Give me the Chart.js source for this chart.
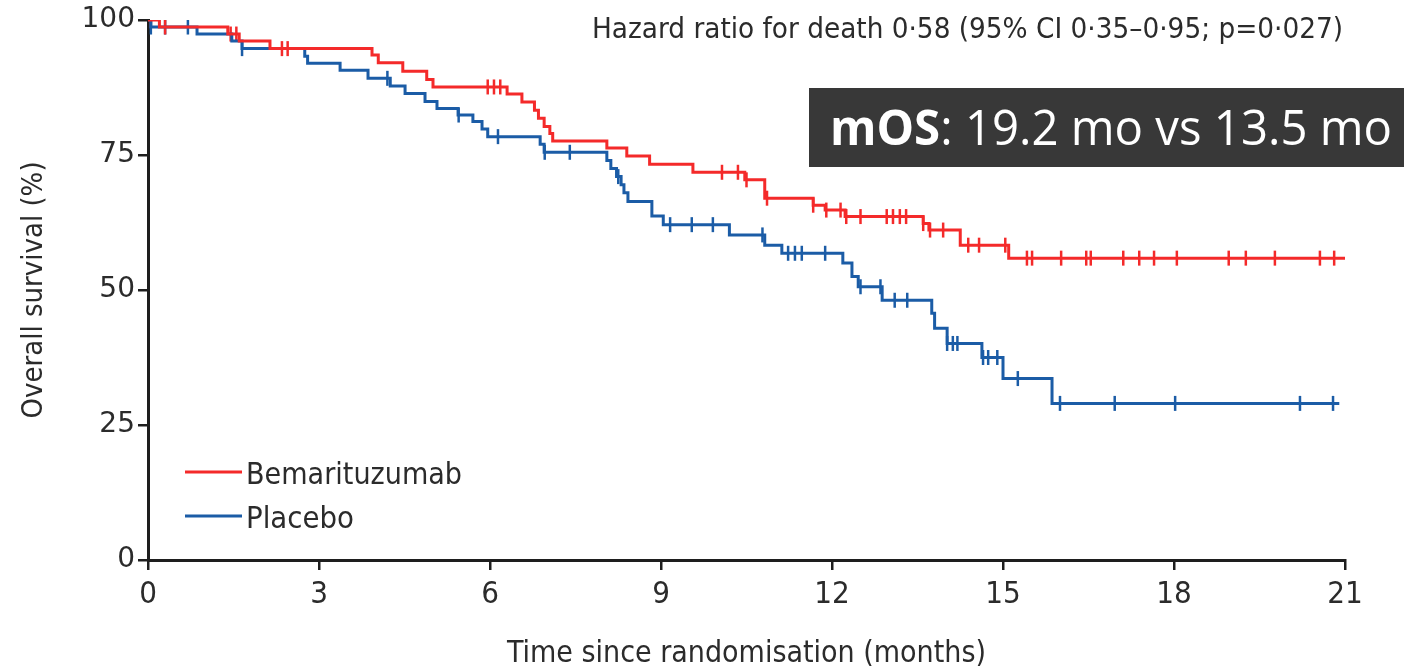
<!DOCTYPE html>
<html>
<head>
<meta charset="utf-8">
<script src="https://cdn.jsdelivr.net/npm/chart.js@4.4.1/dist/chart.umd.min.js"></script>
<style>
  html, body { margin: 0; padding: 0; background: #fff; }
  #wrap { width: 1404px; height: 672px; position: relative; }
</style>
</head>
<body>
<div id="wrap"><canvas id="km" width="1404" height="672"></canvas></div>
<script>
// --- data (months, % surviving) ---
const redTimes = [0, 0.2, 1.4, 1.6, 2.14, 3.93, 4.04, 4.47, 4.89, 5.0, 6.3, 6.56, 6.78, 6.85, 6.95, 7.05, 7.1,
  8.05, 8.4, 8.8, 9.56, 10.47, 10.82, 11.67, 11.88, 12.23, 13.6, 13.7, 14.25, 15.1, 21];
const redSurv = [100, 98.7, 97.4, 96.1, 94.7, 93.5, 92.1, 90.5, 89.0, 87.6, 86.3, 84.8, 83.3, 81.8, 80.3, 79.0, 77.6,
  76.3, 74.8, 73.3, 71.8, 70.4, 67.0, 65.7, 64.8, 63.6, 62.3, 61.1, 58.3, 55.9, 55.9];
const redCensor = [0.05, 0.3, 1.45, 1.55, 2.35, 2.45, 5.96, 6.07, 6.18, 10.07, 10.35, 10.5, 10.86, 11.67, 11.9,
  12.15, 12.25, 12.5, 12.96, 13.07, 13.19, 13.3, 13.6, 13.72, 13.95, 14.39, 14.58, 15.04, 15.42, 15.51, 16.02,
  16.46, 16.54, 17.11, 17.39, 17.65, 18.05, 18.96, 19.26, 19.77, 20.56, 20.81];

const blueTimes = [0, 0.05, 0.86, 1.47, 1.65, 2.75, 2.8, 3.37, 3.86, 4.25, 4.51, 4.86, 5.07, 5.44, 5.7, 5.86, 5.96,
  6.88, 6.95, 8.05, 8.12, 8.22, 8.3, 8.35, 8.42, 8.84, 9.04, 10.2, 10.82, 11.12, 12.19, 12.35, 12.46, 12.88,
  13.75, 13.8, 14.02, 14.63, 15.0, 15.86, 20.9];
const blueSurv = [100, 98.7, 97.4, 96.1, 94.7, 93.3, 92.0, 90.7, 89.2, 87.8, 86.4, 84.9, 83.6, 82.4, 81.2, 79.8, 78.4,
  77.0, 75.5, 74.0, 72.5, 71.0, 69.5, 68.0, 66.4, 63.7, 62.1, 60.2, 58.3, 56.8, 55.0, 52.5, 50.6, 48.1,
  45.7, 42.9, 40.1, 37.5, 33.6, 29.0, 29.0];
const blueCensor = [0.05, 0.3, 0.7, 1.65, 4.2, 5.45, 6.14, 6.96, 7.4, 8.25, 9.16, 9.54, 9.91, 10.78, 11.23, 11.35,
  11.47, 11.88, 12.5, 12.85, 13.1, 13.32, 14.02, 14.12, 14.2, 14.65, 14.74, 14.9, 15.26, 16.0, 16.96, 18.02,
  20.21, 20.79];

const xTicks = [0, 3, 6, 9, 12, 15, 18, 21];
const yTicks = [0, 25, 50, 75, 100];
const seriesNames = ['Bemarituzumab', 'Placebo'];
const hazardText = 'Hazard ratio for death 0·58 (95% CI 0·35–0·95; p=0·027)';
const mosLabel = 'mOS';
const mosText = ': 19.2 mo vs 13.5 mo';

const RED = '#f42a2a';
const BLUE = '#1b5ca6';
const INK = '#2b2b2b';
const NARROW = "'DejaVu Sans Condensed', 'DejaVu Sans', sans-serif";

// step curve value at time t
function survAt(times, surv, t) {
  let s = surv[0];
  for (let i = 0; i < times.length; i++) {
    if (times[i] <= t) s = surv[i];
  }
  return s;
}
const toXY = (times, surv) => times.map((t, i) => ({ x: t, y: surv[i] }));
const censorXY = (list, times, surv) => list.map(t => ({ x: t, y: survAt(times, surv, t) }));

// draw text squeezed/stretched horizontally to a given width
function fitText(ctx, text, x, y, width, align) {
  const w = ctx.measureText(text).width;
  const k = width / w;
  ctx.save();
  ctx.translate(align === 'right' ? x - width : x, y);
  ctx.scale(k, 1);
  ctx.textAlign = 'left';
  ctx.fillText(text, 0, 0);
  ctx.restore();
}

// legend + annotations drawn on the canvas
const overlayPlugin = {
  id: 'overlay',
  afterDatasetsDraw(chart) {
    const ctx = chart.ctx;
    const a = chart.chartArea;
    ctx.save();
    ctx.textBaseline = 'alphabetic';
    // legend inside the plot
    const items = [[seriesNames[0], RED, a.top + 452, 216], [seriesNames[1], BLUE, a.top + 496, 108]];
    ctx.font = '31px ' + NARROW;
    items.forEach(([name, col, y, w]) => {
      ctx.strokeStyle = col;
      ctx.lineWidth = 3;
      ctx.beginPath();
      ctx.moveTo(a.left + 37, y);
      ctx.lineTo(a.left + 94, y);
      ctx.stroke();
      ctx.fillStyle = INK;
      fitText(ctx, name, a.left + 98, y + 12, w, 'left');
    });
    // hazard ratio line
    ctx.font = '29px ' + NARROW;
    ctx.fillStyle = INK;
    fitText(ctx, hazardText, 1343, 38, 751, 'right');
    // mOS box
    ctx.fillStyle = '#383838';
    ctx.fillRect(809, 88, 1404 - 809, 79);
    ctx.fillStyle = '#fff';
    ctx.font = "bold 49px 'Open Sans', sans-serif";
    const w1 = ctx.measureText(mosLabel).width;
    ctx.font = "49px 'Open Sans', sans-serif";
    const w2 = ctx.measureText(mosText).width;
    const k = 562 / (w1 + w2);
    ctx.save();
    ctx.translate(830, 145);
    ctx.scale(k, 1);
    ctx.font = "bold 49px 'Open Sans', sans-serif";
    ctx.fillText(mosLabel, 0, 0);
    ctx.font = "49px 'Open Sans', sans-serif";
    ctx.fillText(mosText, w1, 0);
    ctx.restore();
    ctx.restore();
  }
};

const axisCommon = {
  grid: { drawOnChartArea: false, drawTicks: true, tickLength: 10, color: '#1e1e1e', lineWidth: 2.5 },
  border: { display: true, color: '#1e1e1e', width: 3 },
};

new Chart(document.getElementById('km'), {
  type: 'line',
  data: {
    datasets: [
      { label: seriesNames[0], data: toXY(redTimes, redSurv), borderColor: RED, borderWidth: 3,
        stepped: 'before', pointRadius: 0, fill: false },
      { label: seriesNames[1], data: toXY(blueTimes, blueSurv), borderColor: BLUE, borderWidth: 3,
        stepped: 'before', pointRadius: 0, fill: false },
      { label: 'censor1', data: censorXY(redCensor, redTimes, redSurv), showLine: false,
        pointStyle: 'line', rotation: 90, pointRadius: 7.5, pointBorderWidth: 2.5, borderColor: RED },
      { label: 'censor2', data: censorXY(blueCensor, blueTimes, blueSurv), showLine: false,
        pointStyle: 'line', rotation: 90, pointRadius: 7.5, pointBorderWidth: 2.5, borderColor: BLUE }
    ]
  },
  options: {
    responsive: false,
    animation: false,
    layout: { padding: { top: 20, right: 59, left: 0, bottom: 0 } },
    plugins: { legend: { display: false }, tooltip: { enabled: false } },
    scales: {
      x: {
        ...axisCommon,
        type: 'linear', min: 0, max: 21,
        afterBuildTicks: s => { s.ticks = xTicks.map(v => ({ value: v })); },
        afterFit: s => { s.height = 112; },
        ticks: { color: INK, font: { family: NARROW, size: 31 }, padding: 6, maxRotation: 0 },
        title: { display: true, text: 'Time since randomisation (months)', color: INK,
          font: { family: NARROW, size: 30 }, padding: { bottom: 0 } }
      },
      y: {
        ...axisCommon,
        type: 'linear', min: 0, max: 100,
        afterBuildTicks: s => { s.ticks = yTicks.map(v => ({ value: v })); },
        afterFit: s => { s.width = 148; },
        ticks: { color: INK, font: { family: "'DejaVu Sans', sans-serif", size: 28 }, padding: 3 },
        title: { display: true, text: 'Overall survival (%)', color: INK,
          font: { family: NARROW, size: 29 }, padding: { top: 17 } }
      }
    }
  },
  plugins: [overlayPlugin]
});
</script>
</body>
</html>
